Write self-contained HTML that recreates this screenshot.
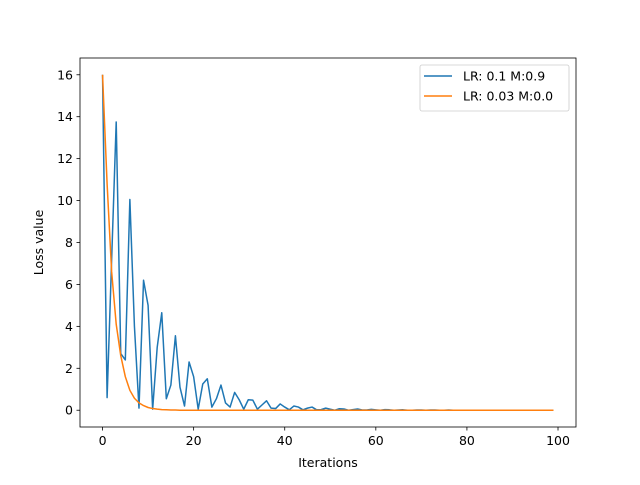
<!DOCTYPE html>
<html><head><meta charset="utf-8"><style>
body{margin:0;background:#fff;}
svg{font-family:"DejaVu Sans","Liberation Sans",sans-serif;}
</style></head><body>
<svg id="chart" width="640" height="480"></svg>
<script>
const blueValues=[16,0.6,7.2,13.75,2.7,2.4,10.05,4,0.1,6.2,5,0.05,3.0,4.65,0.55,1.2,3.55,1.1,0.2,2.3,1.6,0.05,1.25,1.5,0.15,0.55,1.2,0.35,0.15,0.85,0.5,0.05,0.5,0.48,0.05,0.25,0.45,0.1,0.08,0.3,0.15,0.02,0.2,0.15,0.02,0.1,0.15,0.02,0.03,0.1,0.05,0.0,0.07,0.06,0.0,0.03,0.06,0.01,0.01,0.04,0.02,0,0.03,0.02,0,0.01,0.02,0,0,0.01,0.01,0,0.01,0.01,0,0,0.01,0,0,0,0,0,0,0,0,0,0,0,0,0,0,0,0,0,0,0,0,0,0,0];
const orangeValues=[16,10.8,6.6,4.1,2.6,1.6,0.95,0.57,0.35,0.22,0.13,0.08,0.05,0.03,0.02,0.01,0.01,0,0,0,0,0,0,0,0,0,0,0,0,0,0,0,0,0,0,0,0,0,0,0,0,0,0,0,0,0,0,0,0,0,0,0,0,0,0,0,0,0,0,0,0,0,0,0,0,0,0,0,0,0,0,0,0,0,0,0,0,0,0,0,0,0,0,0,0,0,0,0,0,0,0,0,0,0,0,0,0,0,0,0];
const xTicks=[0,20,40,60,80,100];
const yTicks=[0,2,4,6,8,10,12,14,16];
const seriesLabels=["LR: 0.1 M:0.9","LR: 0.03 M:0.0"];
const L=80,R=576,T=58,B=427;
const xs=v=>L+(v+4.95)/108.9*(R-L);
const ys=v=>B-(v+0.8)/17.6*(B-T);
const svg=document.getElementById('chart');
const NS='http://www.w3.org/2000/svg';
const FS=12.5;
function mk(tag,attrs,parent){const e=document.createElementNS(NS,tag);for(const k in attrs)e.setAttribute(k,attrs[k]);(parent||svg).appendChild(e);return e;}
function pathFor(vals){return vals.map((v,i)=>(i?'L':'M')+xs(i).toFixed(2)+','+ys(v).toFixed(2)).join('');}
const b=mk('path',{d:pathFor(blueValues),fill:'none',stroke:'#1f77b4','stroke-width':1.5,'stroke-linejoin':'round'});


const o=mk('path',{d:pathFor(orangeValues),fill:'none',stroke:'#ff7f0e','stroke-width':1.5,'stroke-linejoin':'round'});


const fr=mk('rect',{x:L,y:T,width:R-L,height:B-T,fill:'none',stroke:'#000','stroke-width':0.8});


xTicks.forEach(t=>{const x=xs(t);
 mk('line',{x1:x,x2:x,y1:B,y2:B+3.5,stroke:'#000','stroke-width':0.8});
 const tx=mk('text',{x:x,y:B+18,'text-anchor':'middle','font-size':FS});tx.textContent=t;
 
 });
yTicks.forEach(t=>{const y=ys(t);
 mk('line',{x1:L,x2:L-3.5,y1:y,y2:y,stroke:'#000','stroke-width':0.8});
 const tx=mk('text',{x:L-7,y:y+4.5,'text-anchor':'end','font-size':FS});tx.textContent=t;
 
 });
const xl=mk('text',{x:(L+R)/2,y:467,'text-anchor':'middle','font-size':FS});xl.textContent='Iterations';


const yl=mk('text',{x:0,y:0,'text-anchor':'middle','font-size':FS,transform:`translate(43,${(T+B)/2}) rotate(-90)`});yl.textContent='Loss value';


const lg=mk('g',{});


mk('rect',{x:420,y:65,width:149,height:46,rx:2,fill:'#fff','fill-opacity':0.8,stroke:'#ccc','stroke-width':0.8},lg);
['#1f77b4','#ff7f0e'].forEach((c,i)=>{const y=76+i*20;
 mk('line',{x1:424,x2:452,y1:y,y2:y,stroke:c,'stroke-width':1.5},lg);
 const tx=mk('text',{x:463,y:y+4.5,'font-size':FS},lg);tx.textContent=seriesLabels[i];
 
 });
</script>
</body></html>
